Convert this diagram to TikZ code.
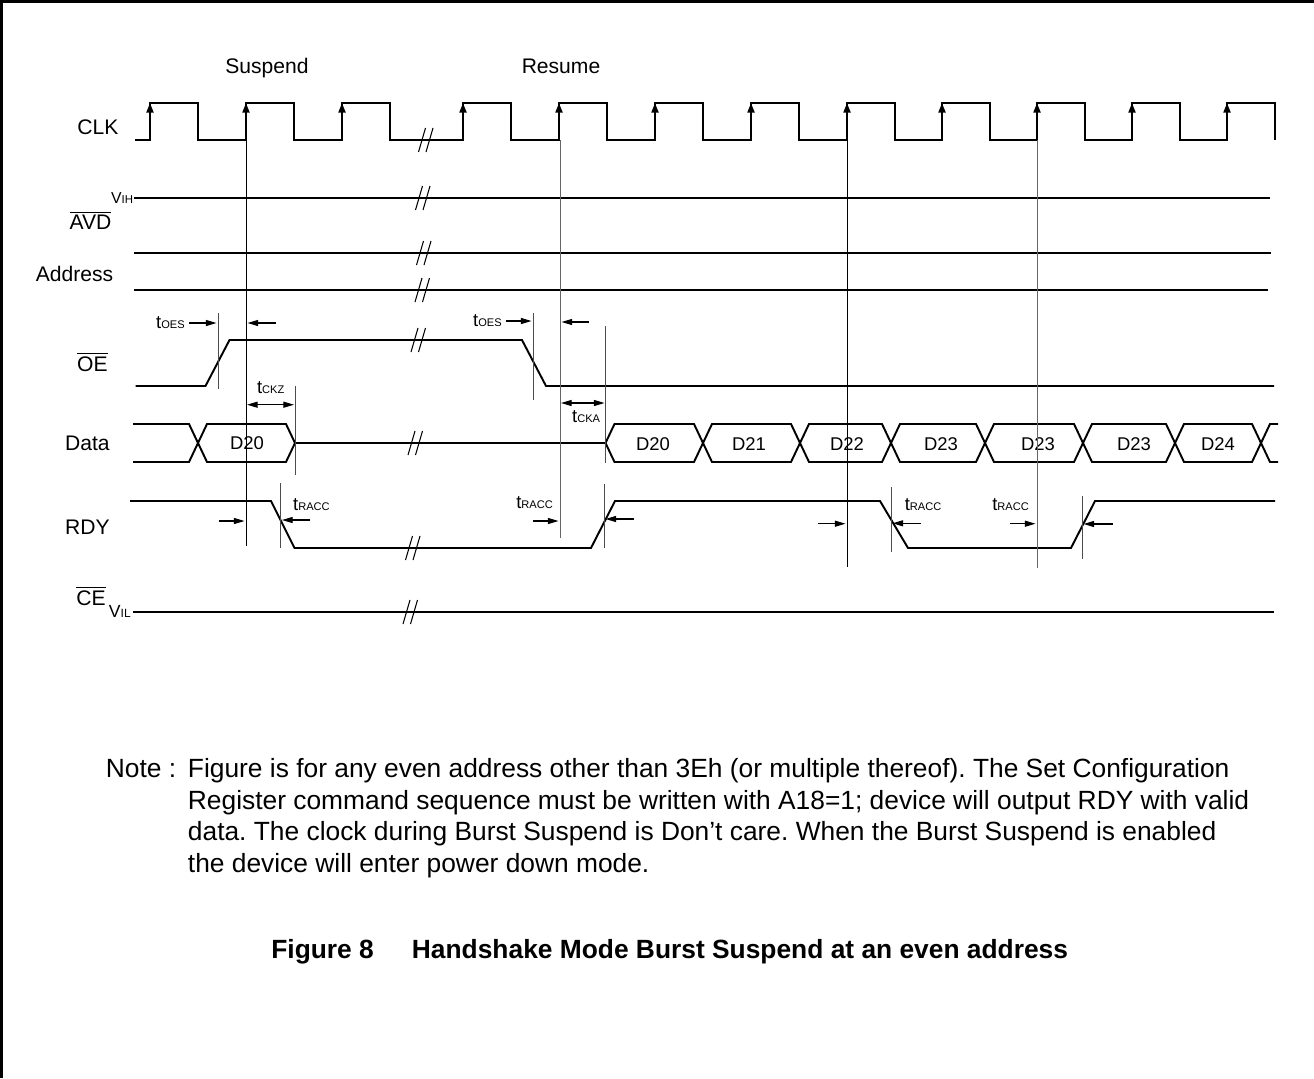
\documentclass[tikz,border=0pt]{standalone}
\usepackage{fontspec}
\setmainfont{Liberation Sans}
\usetikzlibrary{arrows.meta}
\frenchspacing

\newcommand{\tparam}[1]{{\fontsize{10.5}{11}\selectfont t}{\fontsize{6.3}{7}\selectfont #1}}

\begin{document}
\begin{tikzpicture}[x=0.02cm, y=-0.02cm,
    sig/.style={line width=1.1pt},
    guide/.style={line width=0.5pt},
    brk/.style={line width=0.6pt},
    tarr/.style={line width=0.6pt, -{Triangle[length=6pt,width=3.4pt]}},
    tboth/.style={line width=0.6pt, {Triangle[length=6pt,width=3.4pt]}-{Triangle[length=6pt,width=3.4pt]}},
    lbl/.style={inner sep=0pt, anchor=base east, font=\fontsize{12}{14}\selectfont},
    cell/.style={inner sep=0pt, font=\fontsize{10.5}{12}\selectfont},
    tlab/.style={inner sep=0pt, anchor=base west},
    notetext/.style={inner sep=0pt, anchor=base west, font=\fontsize{15}{18}\selectfont}]
  \useasboundingbox (0,0) rectangle (1314,1078);
  % frame
  \draw[line width=1.5pt] (1.5,1078) -- (1.5,1.5) -- (1314,1.5);

  % signal names
  \node[lbl, anchor=base] (susp) at (267,73.5) {Suspend};
  \node[lbl, anchor=base] (resu) at (561,73.5) {Resume};
  \node[lbl] (clk) at (118.7,134) {CLK};
  \node[lbl] (avd) at (111.7,229) {$\overline{\mbox{AVD}}$};
  \node[lbl] (addr) at (113.6,281.5) {Address};
  \node[lbl] (oe) at (108,371) {$\overline{\mbox{OE}}$};
  \node[lbl] (data) at (110,450) {Data};
  \node[lbl] (rdy) at (110,534) {RDY};
  \node[lbl] (ce) at (106,605) {$\overline{\mbox{CE}}$};
  \node[tlab, anchor=base east] (vih) at (133.5,203.3) {{\fontsize{9}{9}\selectfont V}{\fontsize{6.5}{7}\selectfont IH}};
  \node[tlab, anchor=base east] (vil) at (131,617) {{\fontsize{10}{10}\selectfont V}{\fontsize{6.8}{7}\selectfont IL}};

  % CLK
  \draw[sig] (135,140) \foreach \r in {150,246,342,463,559,655,751,847,942,1037,1132,1227} { -- (\r,140) -- (\r,103) -- (\r+48,103) -- (\r+48,140) };
  \foreach \r in {150,246,342,463,559,655,751,847,942,1037,1132,1227}
    \draw[sig, -{Triangle[length=5.5pt,width=4pt]}] (\r,128) -- (\r,103);

  % AVD, Address
  \draw[sig] (134,198) -- (1269.5,198);
  \draw[sig] (134,253) -- (1271,253);
  \draw[sig] (134,290) -- (1268,290);

  % OE
  \draw[sig] (135.5,386) -- (205.5,386) -- (229.5,340) -- (522,340) -- (546,386) -- (1274,386);

  % Data
  \draw[sig] (133,424) -- (189,424) -- (198,443) -- (189,462) -- (133,462);
  \draw[sig] (198,443) -- (207,424) -- (286,424) -- (295,443) -- (286,462) -- (207,462) -- cycle;
  \node[cell] (d20a) at (247,443) {D20};
  \draw[sig] (295,443) -- (605.5,443);
  \foreach \a/\b/\c/\t/\n in {605.5/703/653/D20/d20b, 703/800/749/D21/d21, 800/891/847/D22/d22,
      891/985/941/D23/d23a, 985/1083/1038/D23/d23b, 1083/1175/1134/D23/d23c, 1175/1261/1218/D24/d24} {
    \draw[sig] (\a,443) -- (\a+9,424) -- (\b-9,424) -- (\b,443) -- (\b-9,462) -- (\a+9,462) -- cycle;
    \node[cell] (\n) at (\c,444) {\t};
  }
  \draw[sig] (1278,424) -- (1270,424) -- (1261,443) -- (1270,462) -- (1278,462);

  % RDY
  \draw[sig] (130,501) -- (271,501) -- (294.5,548) -- (591,548) -- (615,501) -- (880,501) -- (908,548) -- (1071,548) -- (1095,501) -- (1275,501);

  % CE
  \draw[sig] (133,612) -- (1274,612);

  % breaks
  \foreach \x/\y in {422/140, 419/198, 420/253, 418.5/290, 414.5/340, 411.5/443, 409/548, 406.5/612}
    \draw[brk] (\x-3.5,\y+12) -- (\x+3.5,\y-12) (\x+4,\y+12) -- (\x+11,\y-12);

  % guide lines
  \draw[guide] (246,140) -- (246,546);
  \draw[guide, black!60] (560,140) -- (560,538);
  \draw[guide] (847,140) -- (847,567);
  \draw[guide, black!60] (1037,140) -- (1037,568);
  \draw[guide, black!70] (218,313) -- (218,389) (533,313) -- (533,400) (295,386) -- (295,475)
    (605.5,326) -- (605.5,463) (280.5,483) -- (280.5,548) (604,484) -- (604,548)
    (891,487) -- (891,552) (1082,496) -- (1082,559);

  % timing
  \node[tlab, anchor=base east] (toes1) at (185,328.3) {\tparam{OES}};
  \draw[tarr] (189,323) -- (216.5,323);
  \draw[tarr] (276,323) -- (247.5,323);
  \node[tlab, anchor=base east] (toes2) at (502,326) {\tparam{OES}};
  \draw[tarr] (506,321) -- (531.5,321);
  \draw[tarr] (589,322) -- (561.5,322);
  \node[tlab] (tckz) at (256.7,393.3) {\tparam{CKZ}};
  \draw[tboth] (247,404.7) -- (294,404.7);
  \draw[tboth] (561,403) -- (604.5,403);
  \node[tlab] (tcka) at (571.8,422.7) {\tparam{CKA}};
  \node[tlab] (tracc1) at (292.8,510.5) {\tparam{RACC}};
  \node[tlab] (tracc2) at (516,508.3) {\tparam{RACC}};
  \node[tlab] (tracc3) at (904.4,510) {\tparam{RACC}};
  \node[tlab] (tracc4) at (992,510) {\tparam{RACC}};
  \draw[tarr] (219,521) -- (244.5,521);
  \draw[tarr] (310,520) -- (282,520);
  \draw[tarr] (533,521) -- (558.5,521);
  \draw[tarr] (634,519) -- (605.5,519);
  \draw[tarr] (818,523.7) -- (845.5,523.7);
  \draw[tarr] (921,523.3) -- (892.5,523.3);
  \draw[tarr] (1010,523.7) -- (1035.5,523.7);
  \draw[tarr] (1113,524) -- (1083.5,524);

  % note
  \node[notetext] (note) at (105.6,777.3) {Note :};
  \node[notetext] (note1) at (187.6,777.3) {Figure is for any even address other than 3Eh (or multiple thereof). The Set Configuration};
  \node[notetext] (note2) at (187.6,809) {Register command sequence must be written with A18=1; device will output RDY with valid};
  \node[notetext] (note3) at (187.6,840.7) {data. The clock during Burst Suspend is Don’t care. When the Burst Suspend is enabled};
  \node[notetext] (note4) at (187.6,872.4) {the device will enter power down mode.};

  % caption
  \node[notetext, font=\fontsize{15}{18}\selectfont\bfseries] (cap1) at (271,958.3) {Figure 8};
  \node[notetext, font=\fontsize{15}{18}\selectfont\bfseries] (cap2) at (411.6,958.3) {Handshake Mode Burst Suspend at an even address};
\end{tikzpicture}
\end{document}
